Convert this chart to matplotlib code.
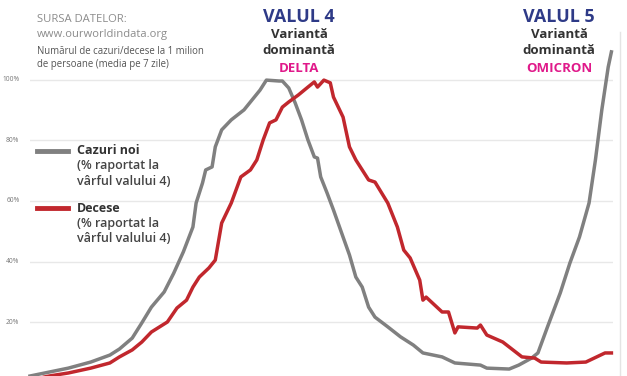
import matplotlib
matplotlib.use("Agg")
import matplotlib.pyplot as plt
from matplotlib.lines import Line2D

# ---- data (day index, % of wave-4 peak) ----
cases_day = [0, 6, 12, 19, 25, 28, 32, 35, 38, 42, 45, 48, 51, 52, 54, 55, 57, 58, 60, 63, 67, 70, 72, 74,
             78, 79, 81, 83, 85, 87, 89, 90, 91, 93, 95, 98, 100, 102, 104, 106, 108, 112, 116, 120, 123,
             129, 133, 141, 143, 150, 153, 157, 159, 162, 166, 169, 172, 175, 177, 179, 181, 182]
cases_pct = [2.3, 3.6, 4.9, 6.9, 9.2, 11.2, 14.8, 19.8, 25.0, 30.0, 36.2, 43.2, 51.4, 59.3, 65.9, 70.2, 71.2,
             77.8, 83.4, 86.7, 90.0, 93.9, 96.5, 99.8, 99.5, 99.5, 97.2, 92.3, 86.7, 80.1, 74.5, 74.1,
             67.9, 62.6, 57.0, 48.1, 42.2, 34.9, 31.6, 25.0, 21.7, 18.5, 15.2, 12.5, 9.9, 8.6, 6.6, 5.9,
             4.9, 4.6, 5.9, 8.2, 9.9, 18.5, 29.7, 39.5, 48.1, 59.3, 73.5, 90.0, 104.1, 109.1]

deaths_day = [0, 6, 12, 19, 25, 28, 32, 35, 38, 43, 46, 49, 51, 53, 56, 58, 60, 63, 66, 69, 71, 73, 75, 77,
              79, 81, 84, 87, 89, 90, 92, 94, 95, 98, 100, 102, 104, 106, 108, 112, 115, 117, 119, 122,
              123, 124, 129, 131, 133, 134, 140, 141, 143, 148, 154, 158, 160, 168, 174, 180, 182]
deaths_pct = [1.0, 2.3, 3.3, 4.9, 6.6, 8.6, 10.9, 13.5, 16.8, 20.1, 24.7, 27.3, 31.6, 34.9, 37.9, 40.5,
              52.7, 59.3, 67.9, 70.2, 73.5, 80.1, 85.7, 86.7, 90.9, 92.6, 94.9, 97.5, 99.2, 97.5, 99.8,
              98.9, 94.2, 87.6, 77.8, 73.5, 70.2, 66.9, 66.2, 59.3, 51.4, 43.8, 41.2, 33.9, 27.3, 28.3,
              23.4, 23.4, 16.5, 18.5, 18.1, 19.1, 15.8, 13.5, 8.6, 8.2, 6.9, 6.6, 6.9, 9.9, 9.9]

grid_levels = [20, 40, 60, 80, 100]
grid_labels = ["20%", "40%", "60%", "80%", "100%"]

W, H = 627, 376
fig = plt.figure(figsize=(W / 100, H / 100), dpi=100)
fig.patch.set_facecolor("white")

# axes: left px 30, right px 613; full height; 0% at px 383
x0, x1 = 30, 613
ax = fig.add_axes([x0 / W, 0, (x1 - x0) / W, 1])
ax.set_xlim(0, 182.5)
k = 20 / 60.7
ax.set_ylim((383 - 376) * k, 383 * k)
ax.axis("off")

for g, lab in zip(grid_levels, grid_labels):
    ax.axhline(g, color="#e8e8e8", lw=1.0, zorder=1)
    ax.text(-3.3, g, lab, ha="right", va="center", fontsize=4.8, color="#777777",
            family="Open Sans")

ax.plot(cases_day, cases_pct, color="#808080", lw=2.5, zorder=3, solid_joinstyle="round",
        clip_on=False)
ax.plot(deaths_day, deaths_pct, color="#c1272d", lw=2.5, zorder=4, solid_joinstyle="round",
        clip_on=False)

# right vertical line
fig.add_artist(Line2D([620 / W, 620 / W], [0, 1 - 32 / H], color="#e4e4e4", lw=1.0))

def ft(x, y, s, **kw):
    kw.setdefault("family", "Open Sans")
    fig.text(x / W, 1 - y / H, s, **kw)

# source text
ft(37, 20, "SURSA DATELOR:", fontsize=8.1, color="#8c8c8c", va="center")
ft(37, 35, "www.ourworldindata.org", fontsize=8.1, color="#8c8c8c", va="center")
ft(37, 52, "Numărul de cazuri/decese la 1 milion", fontsize=6.9, color="#555555", va="center")
ft(37, 64, "de persoane (media pe 7 zile)", fontsize=6.9, color="#555555", va="center")

# wave labels
for cx, wave, var in [(299, "VALUL 4", "DELTA"), (559, "VALUL 5", "OMICRON")]:
    ft(cx, 17, wave, fontsize=12.9, fontweight="bold", color="#2e3a87", ha="center", va="center")
    ft(cx, 35, "Variantă", fontsize=9.5, fontweight="bold", color="#333333", ha="center", va="center")
    ft(cx, 51, "dominantă", fontsize=9.5, fontweight="bold", color="#333333", ha="center", va="center")
    ft(cx, 68, var, fontsize=9.5, fontweight="bold", color="#e0198a", ha="center", va="center")

# legend
fig.add_artist(Line2D([37 / W, 68 / W], [1 - 151 / H] * 2, color="#808080", lw=3.5))
ft(77, 150, "Cazuri noi", fontsize=9.0, fontweight="bold", color="#333333", va="center")
ft(77, 166, "(% raportat la", fontsize=9.0, fontweight="semibold", color="#444444", va="center")
ft(77, 181, "vârful valului 4)", fontsize=9.0, fontweight="semibold", color="#444444", va="center")

fig.add_artist(Line2D([37 / W, 68 / W], [1 - 208 / H] * 2, color="#c1272d", lw=3.5))
ft(77, 208, "Decese", fontsize=9.0, fontweight="bold", color="#333333", va="center")
ft(77, 223, "(% raportat la", fontsize=9.0, fontweight="semibold", color="#444444", va="center")
ft(77, 238, "vârful valului 4)", fontsize=9.0, fontweight="semibold", color="#444444", va="center")

fig.savefig("out.png", dpi=100, facecolor="white")
